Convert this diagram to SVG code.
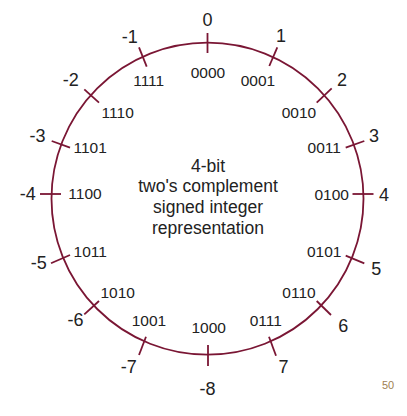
<svg xmlns="http://www.w3.org/2000/svg" width="407" height="416" viewBox="0 0 407 416">
<style>
.ring{fill:none;stroke:#7a1634;stroke-width:1.8}
.tick{stroke:#7a1634;stroke-width:1.8;fill:none}
.num{font-family:"Liberation Sans",Arial,sans-serif;font-size:18px;fill:#222222;text-anchor:middle}
.bin{font-family:"Liberation Sans",Arial,sans-serif;font-size:15.5px;fill:#222222;text-anchor:middle}
.title{font-family:"Liberation Sans",Arial,sans-serif;font-size:17.5px;fill:#222222;text-anchor:middle}
.page{font-family:"Liberation Sans",Arial,sans-serif;font-size:11px;fill:#a08052;text-anchor:middle}
</style>
<rect width="407" height="416" fill="#ffffff"/>
<g id="ring"><circle class="ring" cx="207.5" cy="198.7" r="156"/></g>
<g id="title">
<text class="title" x="208" y="171.5">4-bit</text>
<text class="title" x="208" y="192">two's complement</text>
<text class="title" x="208" y="213">signed integer</text>
<text class="title" x="208" y="234">representation</text>
</g>
<g id="connectors">
<line class="tick" x1="207.5" y1="33" x2="207.5" y2="53"/>
<line class="tick" x1="269.3" y1="66" x2="277.3" y2="47.3"/>
<line class="tick" x1="316.7" y1="102.7" x2="331.7" y2="88.3"/>
<line class="tick" x1="345.7" y1="147.7" x2="364.3" y2="141"/>
<line class="tick" x1="352.5" y1="194" x2="373.5" y2="194"/>
<line class="tick" x1="345.7" y1="255.7" x2="364.3" y2="263.3"/>
<line class="tick" x1="316.7" y1="301" x2="331" y2="315"/>
<line class="tick" x1="269" y1="336.7" x2="276" y2="355.7"/>
<line class="tick" x1="208" y1="345" x2="208" y2="366"/>
<line class="tick" x1="146" y1="336.7" x2="139" y2="355"/>
<line class="tick" x1="99" y1="301" x2="84.3" y2="314.3"/>
<line class="tick" x1="70" y1="255" x2="51" y2="263.3"/>
<line class="tick" x1="40" y1="194" x2="61" y2="194"/>
<line class="tick" x1="51.7" y1="141" x2="70" y2="147.7"/>
<line class="tick" x1="84.3" y1="89.3" x2="99" y2="102.7"/>
<line class="tick" x1="139" y1="47.3" x2="146.7" y2="66.7"/>
</g>
<g id="n0"><text class="num" x="207.5" y="26">0</text><text class="bin" x="208" y="77.5">0000</text></g>
<g id="n1"><text class="num" x="281" y="42">1</text><text class="bin" x="258" y="86">0001</text></g>
<g id="n2"><text class="num" x="342" y="86">2</text><text class="bin" x="299" y="118.3">0010</text></g>
<g id="n3"><text class="num" x="374" y="141.7">3</text><text class="bin" x="324.2" y="153.3">0011</text></g>
<g id="n4"><text class="num" x="384" y="200.5">4</text><text class="bin" x="331.7" y="200">0100</text></g>
<g id="n5"><text class="num" x="376.3" y="275">5</text><text class="bin" x="324.2" y="257.3">0101</text></g>
<g id="n6"><text class="num" x="343.3" y="331.7">6</text><text class="bin" x="299" y="298.3">0110</text></g>
<g id="n7"><text class="num" x="283.5" y="373.3">7</text><text class="bin" x="265.8" y="326">0111</text></g>
<g id="n-8"><text class="num" x="207.5" y="395">-8</text><text class="bin" x="208.7" y="333">1000</text></g>
<g id="n-7"><text class="num" x="128.8" y="372.7">-7</text><text class="bin" x="149" y="326">1001</text></g>
<g id="n-6"><text class="num" x="75.5" y="325.7">-6</text><text class="bin" x="117.7" y="298.3">1010</text></g>
<g id="n-5"><text class="num" x="38.8" y="269.3">-5</text><text class="bin" x="90.2" y="257.3">1011</text></g>
<g id="n-4"><text class="num" x="27.8" y="200">-4</text><text class="bin" x="85" y="199">1100</text></g>
<g id="n-3"><text class="num" x="37.5" y="142.3">-3</text><text class="bin" x="90.2" y="153.3">1101</text></g>
<g id="n-2"><text class="num" x="70.8" y="86">-2</text><text class="bin" x="117.7" y="118.3">1110</text></g>
<g id="n-1"><text class="num" x="129.7" y="43.3">-1</text><text class="bin" x="148.7" y="86">1111</text></g>
<g id="page"><text class="page" x="388" y="389">50</text></g>
</svg>
